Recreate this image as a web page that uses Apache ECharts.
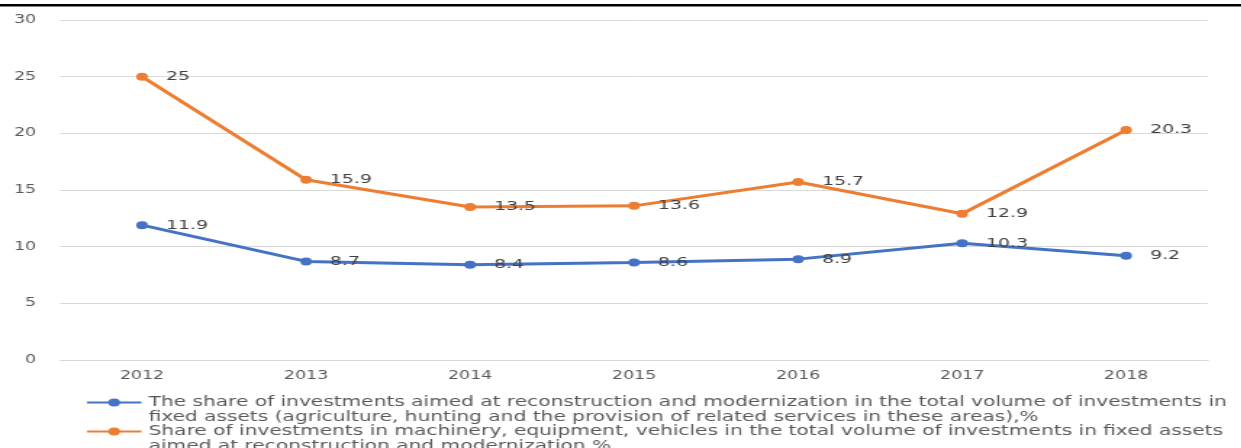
<!DOCTYPE html>
<html>
<head>
<meta charset="utf-8">
<script src="https://cdn.jsdelivr.net/npm/echarts@6/dist/echarts.min.js"></script>
<style>
  html, body { margin: 0; padding: 0; background: #fff; overflow: hidden; }
  #main { width: 856px; height: 448px; transform: scaleX(1.45); transform-origin: 0 0; }
</style>
</head>
<body>
<div id="main"></div>
<script>
const years = ['2012', '2013', '2014', '2015', '2016', '2017', '2018'];
const reconstructionShare = [11.9, 8.7, 8.4, 8.6, 8.9, 10.3, 9.2];
const machineryShare = [25, 15.9, 13.5, 13.6, 15.7, 12.9, 20.3];
const seriesNames = [
  'The share of investments aimed at reconstruction and modernization in the total volume of investments in\nfixed assets (agriculture, hunting and the provision of related services in these areas),%',
  'Share of investments in machinery, equipment, vehicles in the total volume of investments in fixed assets\naimed at reconstruction and modernization.%'
];
const yTicks = { min: 0, max: 30, interval: 5 };

const chart = echarts.init(document.getElementById('main'), null, { renderer: 'canvas' });
const font = 'DejaVu Sans';
const legendText = {
  color: '#595959', fontFamily: font, fontSize: 13.9, lineHeight: 14.7
};
// a blank first line keeps the icon level with the first text line
const legendFormatter = function (name) { return '\u00a0\n' + name; };
function lineSeries(name, data, color) {
  return {
    name: name, type: 'line', data: data,
    symbol: 'circle', symbolSize: 8,
    lineStyle: { color: color, width: 3 },
    itemStyle: { color: color },
    label: {
      show: true, position: 'right', distance: 12.5,
      color: '#404040', fontFamily: font, fontSize: 13
    },
    emphasis: { disabled: true },
    animation: false
  };
}
chart.setOption({
  animation: false,
  graphic: [{
    type: 'rect', left: 0, top: 4,
    shape: { width: 856, height: 2.5 },
    style: { fill: '#000' }
  }],
  grid: { left: 41.4, right: 22.8, top: 20, bottom: 88, containLabel: false },
  legend: [
    { data: [seriesNames[0]], orient: 'vertical', left: 59, top: 380.5, padding: 0, itemWidth: 37.5, itemHeight: 10, textStyle: legendText, formatter: legendFormatter, selectedMode: false },
    { data: [seriesNames[1]], orient: 'vertical', left: 59, top: 409.5, padding: 0, itemWidth: 37.5, itemHeight: 10, textStyle: legendText, formatter: legendFormatter, selectedMode: false }
  ],
  xAxis: {
    type: 'category', data: years, boundaryGap: true,
    axisLine: { show: true, lineStyle: { color: '#d9d9d9', width: 1 } },
    axisTick: { show: false },
    axisLabel: { color: '#595959', fontFamily: font, fontSize: 12, margin: 9.5 }
  },
  yAxis: {
    type: 'value', min: yTicks.min, max: yTicks.max, interval: yTicks.interval,
    axisLine: { show: false }, axisTick: { show: false },
    splitLine: { lineStyle: { color: '#d9d9d9', width: 1 } },
    axisLabel: { color: '#595959', fontFamily: font, fontSize: 12, margin: 16.5 }
  },
  series: [
    lineSeries(seriesNames[0], reconstructionShare, '#4472C4'),
    lineSeries(seriesNames[1], machineryShare, '#ED7D31')
  ]
});
</script>
</body>
</html>
